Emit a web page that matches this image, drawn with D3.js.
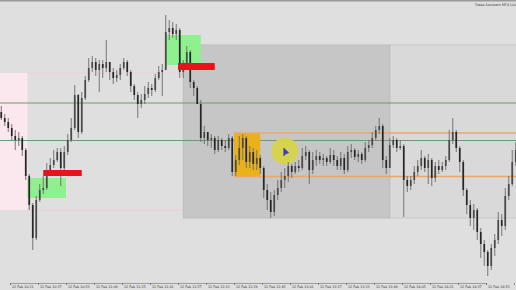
<!DOCTYPE html>
<html>
<head>
<meta charset="utf-8">
<script src="https://cdn.jsdelivr.net/npm/d3@7/dist/d3.min.js"></script>
<style>
  html, body { margin: 0; padding: 0; background: #dfdfdf; }
  #chart { width: 516px; height: 290px; }
  text { font-family: "DejaVu Sans", sans-serif; }
</style>
</head>
<body>
<div id="chart"></div>
<script>
// ---- data (prices in points) ----
var firstBar = "10:16";     // first 2 minute bar
var barMinutes = 2;
var firstOpen = 188;

var closes = [182,178,172,164,160,162,150,124,95,62,
    100,110,112,130,135,140,148,132,148,160,
    172,205,168,202,220,232,238,230,236,232,
    238,228,222,225,232,238,228,214,205,196,
    200,206,212,210,222,228,230,268,272,266,
    270,228,234,248,218,212,196,162,168,160,
    162,150,160,154,152,162,128,140,152,162,
    138,148,136,142,132,110,100,88,105,112,
    120,124,134,128,134,132,144,148,130,140,
    144,140,142,138,145,140,134,142,130,148,
    150,143,146,140,152,155,162,170,174,140,
    132,155,160,152,154,120,114,120,128,134,
    142,132,140,122,134,130,134,140,160,168,
    152,138,110,95,82,90,68,56,48,34,
    52,60,80,74,104,116,138,150];

var highs = [194,186,182,176,170,168,164,152,126,97,
    104,116,124,137,142,150,152,152,154,166,
    182,215,206,208,224,242,244,242,240,240,
    260,238,232,230,236,242,240,230,216,208,
    206,214,218,216,226,234,236,285,280,278,
    276,272,240,254,250,220,214,200,174,168,
    166,164,164,162,160,166,164,145,164,166,
    164,154,152,150,145,134,116,108,110,120,
    128,132,138,136,138,140,152,154,150,148,
    150,148,146,144,152,150,144,148,146,154,
    156,152,150,148,158,160,168,174,182,176,
    144,162,164,162,160,156,124,124,134,140,
    150,144,146,142,138,140,138,144,170,182,
    170,154,140,112,100,96,92,72,60,50,
    56,66,88,86,112,124,150,158];

var lows = [180,174,168,160,150,154,144,120,90,50,
    60,98,106,110,128,132,138,114,130,145,
    158,170,162,166,200,218,228,224,208,222,
    228,220,216,218,220,230,224,208,200,182,
    192,196,202,204,208,220,204,230,260,262,
    260,222,222,232,212,204,196,158,156,154,
    152,146,148,150,148,150,124,124,135,140,
    132,132,130,130,126,102,90,82,84,100,
    108,112,118,122,126,128,130,140,116,126,
    134,136,134,134,136,134,130,130,126,128,
    142,140,138,136,138,148,152,160,166,132,
    126,132,152,148,150,83,108,110,116,124,
    130,128,116,114,118,126,128,130,138,156,
    148,128,104,86,74,70,60,42,34,24,
    30,44,56,64,70,100,114,134];

// time axis labels (every 16 minutes)
var tickTimes = ["10:21","10:37","10:53","11:09","11:25","11:41","11:57","12:13","12:29","12:45",
    "13:01","13:17","13:33","13:49","14:05","14:21","14:37","14:53","15:09"];

// horizontal levels
var greenLevels = [197, 159.5];
var orangeLevels = [167, 123.5];

// zones: [start time, end time, top price, bottom price]
var pinkZone = ["10:05", "10:31", 227, 90];
var sessionBox = ["12:00", "13:58", 255, 82];
var sessionExt = ["13:58", "15:20", 255, 82];
var greenBoxes = [["10:31", "10:53", 122, 102], ["11:50", "12:10", 265, 235]];
var redBars = [["10:40", "11:02", 130, 124], ["11:57", "12:18", 237, 230]];
var yellowBox = ["12:29", "12:44", 167, 123.5];
var cursorAt = ["12:58", 149];

// ---- setup ----
var width = 516, height = 290, plotBottom = 283;
var parseT = d3.timeParse("%H:%M");

var svg = d3.select("#chart")
    .append("svg")
    .attr("width", width)
    .attr("height", height);

var x = d3.scaleTime()
    .domain([parseT(tickTimes[0]), parseT(tickTimes[17])])
    .range([10, 10 + 28 * 17]);

var y = d3.scaleLinear()
    .domain([0, 300])
    .range([300, 0]);

var t0 = parseT(firstBar);
var bars = closes.map(function(c, i) {
    return {
        time: d3.timeMinute.offset(t0, i * barMinutes),
        open: i == 0 ? firstOpen : closes[i - 1],
        close: c,
        high: highs[i],
        low: lows[i]
    };
});

function rectZone(z, cls, fill, stroke) {
    svg.append("rect")
        .attr("class", cls)
        .attr("x", x(parseT(z[0])))
        .attr("y", y(z[2]))
        .attr("width", x(parseT(z[1])) - x(parseT(z[0])))
        .attr("height", y(z[3]) - y(z[2]))
        .attr("fill", fill)
        .attr("stroke", stroke || "none");
}

// background
svg.append("rect").attr("width", width).attr("height", height).attr("fill", "#dfdfdf");

// pink zone + its extended edges
rectZone(pinkZone, "pink", "#fbe8ee");
[pinkZone[2], pinkZone[3]].forEach(function(p) {
    svg.append("line")
        .attr("x1", x(parseT(pinkZone[1]))).attr("x2", x(parseT(sessionBox[0])))
        .attr("y1", y(p)).attr("y2", y(p))
        .attr("stroke", "#efc9d4").attr("stroke-width", 0.8);
});

// session boxes
rectZone(sessionExt, "sess2", "#d9d9d9", "#c9c9c9");
rectZone(sessionBox, "sess", "#c6c6c6", "#bdbdbd");

// green levels
greenLevels.forEach(function(p) {
    svg.append("line")
        .attr("x1", 0).attr("x2", width)
        .attr("y1", y(p)).attr("y2", y(p))
        .attr("stroke", "#6f9a6f").attr("stroke-width", 1);
});

// yellow box and orange lines
rectZone(yellowBox, "ybox", "#e9b21c");
orangeLevels.forEach(function(p) {
    svg.append("line")
        .attr("x1", x(parseT(yellowBox[0]))).attr("x2", width)
        .attr("y1", y(p)).attr("y2", y(p))
        .attr("stroke", "#eda865").attr("stroke-width", 1.6);
});

// green boxes
greenBoxes.forEach(function(b) { rectZone(b, "gbox", "#8ff08f"); });

// cursor highlight
svg.append("circle")
    .attr("cx", x(parseT(cursorAt[0])))
    .attr("cy", y(cursorAt[1]))
    .attr("r", 13.5)
    .attr("fill", "#d6d44a")
    .attr("opacity", 0.95);

// candles
var candles = svg.selectAll(".candle")
    .data(bars)
    .enter().append("g")
    .attr("class", "candle");

candles.append("line")
    .attr("x1", function(d) { return x(d.time); })
    .attr("x2", function(d) { return x(d.time); })
    .attr("y1", function(d) { return y(d.high); })
    .attr("y2", function(d) { return y(d.low); })
    .attr("stroke", "#6a6a6a")
    .attr("stroke-width", 0.9);

candles.append("rect")
    .attr("x", function(d) { return x(d.time) - 0.85; })
    .attr("y", function(d) { return y(Math.max(d.open, d.close)); })
    .attr("width", 1.7)
    .attr("height", function(d) { return Math.max(1, Math.abs(y(d.open) - y(d.close))); })
    .attr("fill", function(d) { return d.close >= d.open ? "#4a4a4a" : "#262626"; });

// red bars on top
redBars.forEach(function(b) { rectZone(b, "rbar", "#e8121c"); });

// cursor arrow
var cx = x(parseT(cursorAt[0])), cy = y(cursorAt[1]);
svg.append("path")
    .attr("d", "M" + (cx - 1) + "," + (cy - 3) + " l0,8 l1.8,-2 l3.2,-1.2 z")
    .attr("fill", "#3b3bd0")
    .attr("stroke", "#23238a")
    .attr("stroke-width", 0.4);

// top frame
svg.append("rect").attr("width", width).attr("height", 1.5).attr("fill", "#9a9a9a");
svg.append("text")
    .attr("x", 475).attr("y", 6)
    .attr("font-size", 3.4)
    .attr("fill", "#333")
    .text("Trade Assistant MT4 (Lite v1.0.0)");

// time axis
svg.append("rect")
    .attr("y", plotBottom).attr("width", width).attr("height", height - plotBottom)
    .attr("fill", "#dfdfdf");

var xAxis = svg.append("g")
    .attr("class", "axis axis--x")
    .attr("transform", "translate(0," + plotBottom + ")")
    .call(d3.axisBottom(x)
        .tickValues(tickTimes.map(parseT))
        .tickSize(2)
        .tickFormat(function(d) { return "12 Feb " + d3.timeFormat("%H:%M")(d); }));

xAxis.select(".domain").attr("stroke", "#8c8c8c").attr("stroke-width", 0.8);
xAxis.selectAll(".tick line").attr("stroke", "#555").attr("stroke-width", 0.6);
xAxis.selectAll(".tick text")
    .attr("font-size", 3.3)
    .attr("fill", "#333")
    .attr("text-anchor", "start")
    .attr("x", 1.5)
    .attr("y", 2.2)
    .attr("dy", "0.71em");
</script>
</body>
</html>
